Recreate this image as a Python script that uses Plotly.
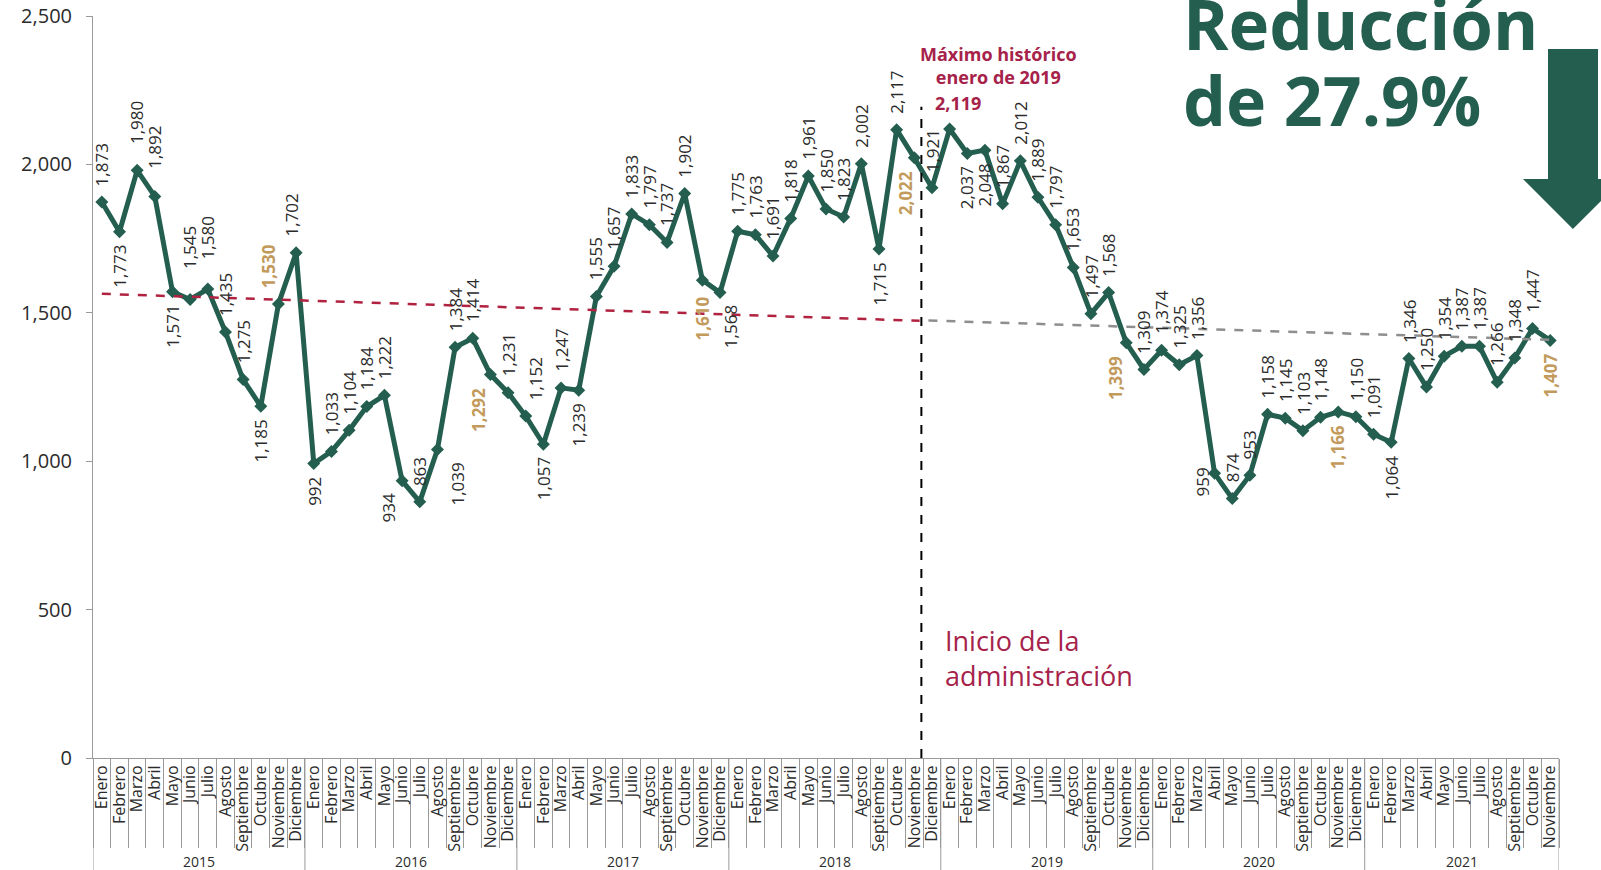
import plotly.graph_objects as go

# ---------------- data ----------------
years = ["2015", "2016", "2017", "2018", "2019", "2020", "2021"]
months = ["Enero", "Febrero", "Marzo", "Abril", "Mayo", "Junio", "Julio",
          "Agosto", "Septiembre", "Octubre", "Noviembre", "Diciembre"]

values_2015 = [1873, 1773, 1980, 1892, 1571, 1545, 1580, 1435, 1275, 1185, 1530, 1702]
values_2016 = [992, 1033, 1104, 1184, 1222, 934, 863, 1039, 1384, 1414, 1292, 1231]
values_2017 = [1152, 1057, 1247, 1239, 1555, 1657, 1833, 1797, 1737, 1902, 1610, 1568]
values_2018 = [1775, 1763, 1691, 1818, 1961, 1850, 1823, 2002, 1715, 2117, 2022, 1921]
values_2019 = [2119, 2037, 2048, 1867, 2012, 1889, 1797, 1653, 1497, 1568, 1399, 1309]
values_2020 = [1374, 1325, 1356, 959, 874, 953, 1158, 1145, 1103, 1148, 1166, 1150]
values_2021 = [1091, 1064, 1346, 1250, 1354, 1387, 1387, 1266, 1348, 1447, 1407]

# label placement: a = above, b = below, s = special
label_pos_2015 = list("abaabaaaabaa")
label_pos_2016 = list("baaaababaaba")
label_pos_2017 = list("ababaaaaaabb")
label_pos_2018 = list("aaaaaaaababa")
label_pos_2019 = list("sbbaaaaaaaba")
label_pos_2020 = list("aaabaaaaaaba")
label_pos_2021 = list("abaaaaaaaab")

# trend lines (x in month index, y in value)
trend_before_x = [0, 46.3]
trend_before_y = [1564, 1473]
trend_after_x = [46.8, 82]
trend_after_y = [1474, 1409]

admin_start_x = 46.4
max_index = 48

# ---------------- styles ----------------
GREEN = "#245E4F"
GOLD = "#C29A5B"
CRIMSON = "#A6224A"
RED_DASH = "#B0223F"
GRAY_DASH = "#8E8E8E"
AXIS = "#9A9A9A"
TEXT = "#2B2B2B"
FONT = "Open Sans"

values = values_2015 + values_2016 + values_2017 + values_2018 + values_2019 + values_2020 + values_2021
label_pos = (label_pos_2015 + label_pos_2016 + label_pos_2017 + label_pos_2018 +
             label_pos_2019 + label_pos_2020 + label_pos_2021)
n = len(values)
xs = list(range(n))
month_labels = [months[i % 12] for i in range(n)]
highlight = {i for i in range(n) if i % 12 == 10}

dx = {10: -10, 11: -5, 17: -14, 19: 20, 22: -12, 24: 10, 35: 10, 46: -8, 58: -10, 63: -12}
gap_override = {3: 26, 5: 28, 6: 28, 2: 24, 63: -8, 34: 14}

fig = go.Figure()
fig.add_trace(go.Scatter(
    x=xs, y=values, mode="lines+markers",
    line=dict(color=GREEN, width=5),
    marker=dict(symbol="diamond", size=10, color=GREEN),
    hoverinfo="skip", showlegend=False))
fig.add_trace(go.Scatter(
    x=trend_before_x, y=trend_before_y, mode="lines",
    line=dict(color=RED_DASH, width=2.5, dash="dash"),
    hoverinfo="skip", showlegend=False))
fig.add_trace(go.Scatter(
    x=trend_after_x, y=trend_after_y, mode="lines",
    line=dict(color=GRAY_DASH, width=2.5, dash="dash"),
    hoverinfo="skip", showlegend=False))

annotations = []
for i, (v, p) in enumerate(zip(values, label_pos)):
    if p == "s":
        continue
    hl = i in highlight
    txt = f"<b>{v:,}</b>" if hl else f"{v:,}"
    if p == "a":
        gap = gap_override.get(i, 14)
        annotations.append(dict(x=i, y=v, xref="x", yref="y", text=txt, textangle=-90,
                                showarrow=False, xanchor="center", yanchor="bottom",
                                yshift=gap, xshift=dx.get(i, 0),
                                font=dict(family=FONT, size=17, color=GOLD if hl else TEXT)))
    else:
        gap = gap_override.get(i, 11)
        annotations.append(dict(x=i, y=v, xref="x", yref="y", text=txt, textangle=-90,
                                showarrow=False, xanchor="center", yanchor="top",
                                yshift=-gap, xshift=dx.get(i, 0),
                                font=dict(family=FONT, size=17, color=GOLD if hl else TEXT)))

# special max label
annotations.append(dict(x=max_index, y=values[max_index], xref="x", yref="y",
                        text=f"<b>{values[max_index]:,}</b>", showarrow=False,
                        xanchor="center", yanchor="bottom", yshift=12, xshift=8,
                        font=dict(family=FONT, size=18, color=CRIMSON)))
annotations.append(dict(x=max_index, y=values[max_index], xref="x", yref="y",
                        text="<b>Máximo histórico<br>enero de 2019</b>", showarrow=False,
                        xanchor="center", yanchor="bottom", yshift=38, xshift=49,
                        font=dict(family=FONT, size=18, color=CRIMSON)))

annotations.append(dict(x=admin_start_x, y=337, xref="x", yref="y",
                        text="Inicio de la<br>administración", showarrow=False, align="left",
                        xanchor="left", yanchor="middle", xshift=22,
                        font=dict(family=FONT, size=27, color=CRIMSON)))

annotations.append(dict(x=0.742, y=0.9906, xref="paper", yref="paper", text="<b>Reducción</b>",
                        showarrow=False, xanchor="left", yanchor="middle",
                        font=dict(family=FONT, size=69, color=GREEN)))
annotations.append(dict(x=0.742, y=0.8868, xref="paper", yref="paper", text="<b>de 27.9%</b>",
                        showarrow=False, xanchor="left", yanchor="middle",
                        font=dict(family=FONT, size=68, color=GREEN)))

# year labels
for k, yr in enumerate(years):
    start = 12 * k - 0.5
    end = min(12 * k + 11.5, n - 0.5)
    annotations.append(dict(x=(start + end) / 2, y=-0.14, xref="x", yref="paper", text=yr,
                            showarrow=False, xanchor="center", yanchor="middle",
                            font=dict(family=FONT, size=14, color=TEXT)))

shapes = []
# year dividers and y-axis extension
for k in range(len(years) + 1):
    xd = min(12 * k - 0.5, n - 0.5)
    shapes.append(dict(type="line", xref="x", yref="paper", x0=xd, x1=xd, y0=0, y1=-0.16,
                       line=dict(color=AXIS, width=1)))
# administration start line
shapes.append(dict(type="line", xref="x", yref="y", x0=admin_start_x, x1=admin_start_x,
                   y0=0, y1=2194, line=dict(color="black", width=2, dash="dash")))
# down arrow
shapes.append(dict(type="path", xref="paper", yref="paper",
                   path="M 0.9925 0.9555 L 1.0266 0.9555 L 1.0266 0.7803 L 1.0436 0.7803 "
                        "L 1.0095 0.7129 L 0.9754 0.7803 L 0.9925 0.7803 Z",
                   fillcolor=GREEN, line=dict(width=0)))

fig.update_layout(
    width=1601, height=870,
    margin=dict(l=93, r=42, t=16, b=112),
    paper_bgcolor="white", plot_bgcolor="rgba(0,0,0,0)",
    font=dict(family=FONT, color=TEXT),
    showlegend=False,
    annotations=annotations, shapes=shapes,
    xaxis=dict(range=[-0.5, n - 0.5], tickmode="array", tickvals=xs, ticktext=month_labels,
               tickangle=-90, ticks="", showgrid=False, zeroline=False, showline=True,
               linecolor=AXIS, linewidth=1, automargin=False,
               tickfont=dict(family=FONT, size=16, color=TEXT),
               minor=dict(tickmode="array", tickvals=[i - 0.5 for i in range(n + 1)],
                          ticks="outside", ticklen=89, tickcolor=AXIS, tickwidth=1,
                          showgrid=False)),
    yaxis=dict(range=[0, 2500], tickmode="array", tickvals=[0, 500, 1000, 1500, 2000, 2500],
               tickformat=",", ticks="outside", ticklen=6, tickcolor=AXIS, showgrid=False,
               zeroline=False, showline=True, linecolor=AXIS, linewidth=1, automargin=False,
               ticklabelstandoff=10,
               tickfont=dict(family=FONT, size=20, color=TEXT)),
)

fig.write_html("out.html", config={"displayModeBar": False},
               post_script="document.body.style.margin='0';document.body.style.overflow='hidden';")
